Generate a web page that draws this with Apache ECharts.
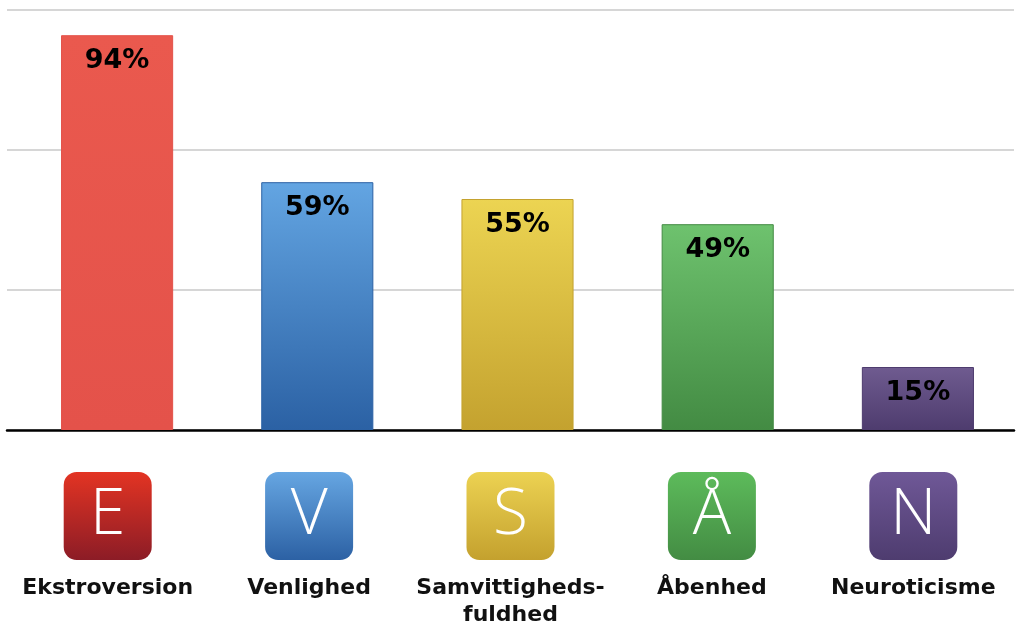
<!DOCTYPE html>
<html>
<head>
<meta charset="utf-8">
<script src="https://cdn.jsdelivr.net/npm/echarts@6/dist/echarts.min.js"></script>
<style>
html,body{margin:0;padding:0;background:#fff;}
#main{width:1024px;height:633px;}
</style>
</head>
<body>
<div id="main"></div>
<script>
// 数据
var categories = ['Ekstroversion', 'Venlighed', 'Samvittigheds-\nfuldhed', 'Åbenhed', 'Neuroticisme'];
var letters = ['E', 'V', 'S', 'Å', 'N'];
var values = [94, 59, 55, 49, 15];

// 颜色 (top, bottom)
var barColors = [['#EA594E', '#E4524A'], ['#63A5E2', '#2B61A4'], ['#ECD452', '#C4A22F'], ['#6EC26E', '#438B43'], ['#6F5B90', '#4E3C6E']];
var iconColors = [['#E33423', '#8C1C26'], ['#66A6E2', '#2C61A4'], ['#ECD252', '#C4A12E'], ['#5DBB5B', '#438C43'], ['#6F5897', '#4E3C6F']];

function grad(c) {
	return new echarts.graphic.LinearGradient(0, 0, 0, 1, [{offset: 0, color: c[0]}, {offset: 1, color: c[1]}]);
}

var rich = {
	t: {
		fontFamily: 'DejaVu Sans',
		fontWeight: 'bold',
		fontSize: 22,
		color: '#111',
		lineHeight: 27
	},
	gap: {
		height: 15,
		lineHeight: 15,
		fontSize: 1
	}
};
for (var i = 0; i < letters.length; i++) {
	rich['i' + i] = {
		backgroundColor: grad(iconColors[i]),
		borderRadius: 13,
		width: 88,
		height: 88,
		lineHeight: 88,
		align: 'center',
		color: '#fff',
		fontFamily: 'Open Sans',
		fontWeight: 300,
		fontSize: 64
	};
}

var chart = echarts.init(document.getElementById('main'));
var option = {
	animation: false,
	//grid 0: 坐标轴和图标, grid 1: 柱子 (稍微右移)
	grid: [
		{left: 7, right: 10, top: 10, bottom: 203},
		{left: 17, right: 6, top: 10, bottom: 203}
	],
	xAxis: [{
		type: 'category',
		gridIndex: 0,
		data: categories,
		axisTick: {show: false},
		axisLine: {lineStyle: {color: '#000', width: 2.5}},
		axisLabel: {
			interval: 0,
			margin: 42,
			formatter: function (v, idx) {
				var lines = v.split('\n').map(function (s) { return '{t|' + s + '}'; }).join('\n');
				return '{i' + idx + '|' + letters[idx] + '}\n{gap|}\n' + lines;
			},
			rich: rich
		}
	}, {
		type: 'category',
		gridIndex: 1,
		data: categories,
		show: false
	}],
	yAxis: [{
		type: 'value',
		gridIndex: 0,
		min: 0,
		max: 100,
		interval: 100 / 3,
		axisLabel: {show: false},
		axisLine: {show: false},
		axisTick: {show: false},
		splitLine: {lineStyle: {color: '#d6d6d6', width: 2}}
	}, {
		type: 'value',
		gridIndex: 1,
		min: 0,
		max: 100,
		show: false,
		splitLine: {show: false}
	}],
	series: [{
		type: 'bar',
		xAxisIndex: 1,
		yAxisIndex: 1,
		barWidth: '56%',
		data: values.map(function (v, i) {
			return {
				value: v,
				itemStyle: {
					color: grad(barColors[i]),
					borderColor: barColors[i][1],
					borderWidth: 1
				}
			};
		}),
		label: {
			show: true,
			position: 'insideTop',
			distance: 12,
			formatter: '{c}%',
			fontFamily: 'DejaVu Sans',
			fontWeight: 'bold',
			fontSize: 27,
			color: '#000'
		}
	}]
};
chart.setOption(option);
</script>
</body>
</html>
